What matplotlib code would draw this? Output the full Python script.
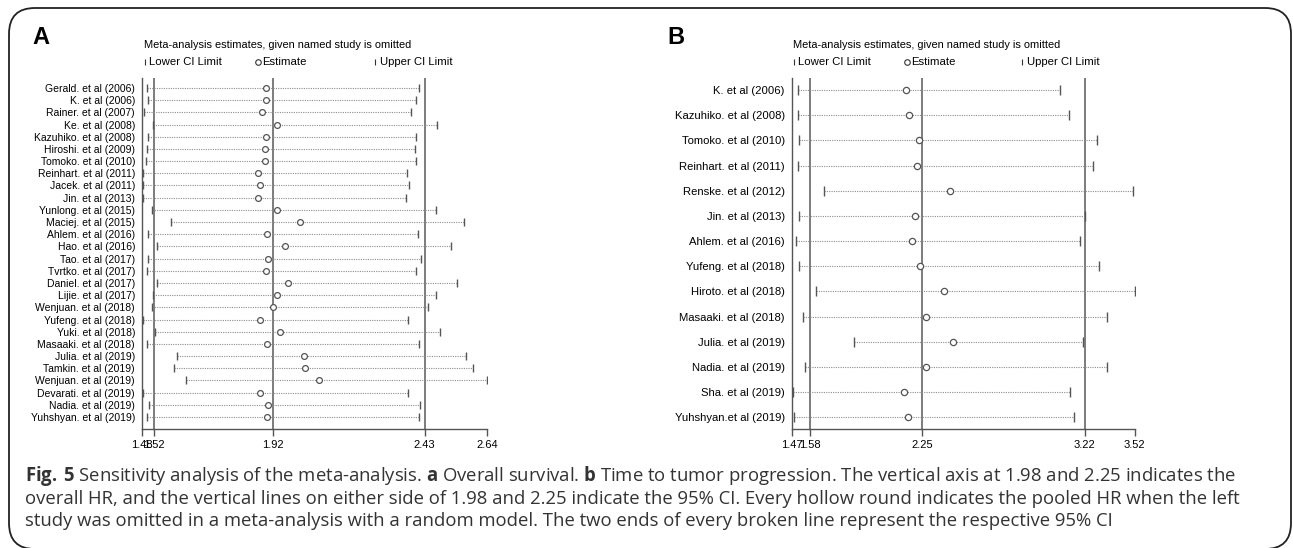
import matplotlib
matplotlib.use("Agg")
import matplotlib.pyplot as plt
from matplotlib.patches import FancyBboxPatch
from matplotlib.lines import Line2D

# ---- data ----
studies_a = ["Gerald. et al (2006)", "K. et al (2006)", "Rainer. et al (2007)", "Ke. et al (2008)",
             "Kazuhiko. et al (2008)", "Hiroshi. et al (2009)", "Tomoko. et al (2010)",
             "Reinhart. et al (2011)", "Jacek. et al (2011)", "Jin. et al (2013)",
             "Yunlong. et al (2015)", "Maciej. et al (2015)", "Ahlem. et al (2016)", "Hao. et al (2016)",
             "Tao. et al (2017)", "Tvrtko. et al (2017)", "Daniel. et al (2017)", "Lijie. et al (2017)",
             "Wenjuan. et al (2018)", "Yufeng. et al (2018)", "Yuki. et al (2018)",
             "Masaaki. et al (2018)", "Julia. et al (2019)", "Tamkin. et al (2019)",
             "Wenjuan. et al (2019)", "Devarati. et al (2019)", "Nadia. et al (2019)",
             "Yuhshyan. et al (2019)"]
lower_a = [1.498, 1.499, 1.487, 1.516, 1.499, 1.496, 1.493, 1.482, 1.482, 1.485,
           1.515, 1.576, 1.499, 1.529, 1.499, 1.498, 1.530, 1.517, 1.513, 1.482,
           1.523, 1.498, 1.597, 1.589, 1.628, 1.483, 1.504, 1.497]
est_a = [1.898, 1.898, 1.882, 1.935, 1.897, 1.895, 1.893, 1.871, 1.876, 1.869,
         1.933, 2.010, 1.900, 1.962, 1.904, 1.896, 1.972, 1.933, 1.919, 1.876,
         1.944, 1.900, 2.024, 2.029, 2.074, 1.877, 1.905, 1.900]
upper_a = [2.411, 2.401, 2.383, 2.471, 2.401, 2.398, 2.400, 2.370, 2.378, 2.368,
           2.467, 2.564, 2.409, 2.519, 2.419, 2.400, 2.538, 2.469, 2.442, 2.376,
           2.483, 2.412, 2.569, 2.592, 2.640, 2.376, 2.414, 2.412]
ticks_a = [1.48, 1.52, 1.92, 2.43, 2.64]
refs_a = [1.52, 1.92, 2.43]

studies_b = ["K. et al (2006)", "Kazuhiko. et al (2008)", "Tomoko. et al (2010)",
             "Reinhart. et al (2011)", "Renske. et al (2012)", "Jin. et al (2013)",
             "Ahlem. et al (2016)", "Yufeng. et al (2018)", "Hiroto. et al (2018)",
             "Masaaki. et al (2018)", "Julia. et al (2019)", "Nadia. et al (2019)",
             "Sha. et al (2019)", "Yuhshyan.et al (2019)"]
lower_b = [1.510, 1.508, 1.516, 1.510, 1.661, 1.512, 1.498, 1.516, 1.615, 1.538,
           1.845, 1.548, 1.476, 1.486]
est_b = [2.153, 2.169, 2.233, 2.217, 2.414, 2.205, 2.187, 2.237, 2.380, 2.271,
         2.434, 2.275, 2.141, 2.165]
upper_b = [3.072, 3.129, 3.293, 3.273, 3.510, 3.225, 3.193, 3.307, 3.520, 3.352,
           3.211, 3.352, 3.131, 3.157]
ticks_b = [1.47, 1.58, 2.25, 3.22, 3.52]
refs_b = [1.58, 2.25, 3.22]

title = "Meta-analysis estimates, given named study is omitted"
caption = [
    r"$\mathbf{Fig.\,5}$ Sensitivity analysis of the meta-analysis. $\mathbf{a}$ Overall survival. "
    r"$\mathbf{b}$ Time to tumor progression. The vertical axis at 1.98 and 2.25 indicates the",
    "overall HR, and the vertical lines on either side of 1.98 and 2.25 indicate the 95% CI. "
    "Every hollow round indicates the pooled HR when the left",
    "study was omitted in a meta-analysis with a random model. The two ends of every broken "
    "line represent the respective 95% CI",
]

SANS = "Liberation Sans"
plt.rcParams["mathtext.fontset"] = "custom"
plt.rcParams["mathtext.rm"] = "Open Sans"
plt.rcParams["mathtext.bf"] = "Open Sans:bold"

W, H = 1293, 548
fig = plt.figure(figsize=(W / 100, H / 100), dpi=100)


def fx(x):
    return x / W


def fy(y):
    return 1 - y / H


def panel(left, right, rows_top, rows_bot, names, lo, est, hi, ticks, refs,
          lab_size, cap_ms, circ_ms):
    top, bot = 78, 429
    n = len(names)
    step = (rows_bot - rows_top) / (n - 1)
    ax = fig.add_axes([fx(left), fy(bot), (right - left) / W, (bot - top) / H])
    ys = list(range(n))
    for r in refs:
        ax.axvline(r, color="#666666", lw=1.2, zorder=1)
    for i in ys:
        ax.plot([lo[i], hi[i]], [i, i], ls=(0, (1, 1.1)), color="#8c8c8c", lw=0.8, zorder=2)
    ax.plot(lo, ys, ls="none", marker="|", ms=cap_ms, mew=1.0, color="#555555", zorder=3)
    ax.plot(hi, ys, ls="none", marker="|", ms=cap_ms, mew=1.0, color="#555555", zorder=3)
    ax.plot(est, ys, ls="none", marker="o", ms=circ_ms, mfc="white", mec="#555555",
            mew=0.9, zorder=4)
    ax.set_xlim(ticks[0], ticks[-1])
    ax.set_ylim(n - 1 + (bot - rows_bot) / step, -(rows_top - top) / step)
    ax.set_xticks(ticks)
    ax.set_xticklabels([f"{t:.2f}" for t in ticks], family=SANS, fontsize=8.0)
    ax.set_yticks(ys)
    ax.set_yticklabels(names, family=SANS, fontsize=lab_size)
    ax.tick_params(axis="y", length=0, pad=5)
    ax.tick_params(axis="x", length=5, width=1, color="#555555", pad=3)
    for s in ["top", "right"]:
        ax.spines[s].set_visible(False)
    for s in ["left", "bottom"]:
        ax.spines[s].set_color("#555555")
        ax.spines[s].set_linewidth(1.0)
    return ax


panel(142, 487, 88, 417, studies_a, lower_a, est_a, upper_a, ticks_a, refs_a, 7.5, 6, 4.2)
panel(791.7, 1134.7, 90, 417.3, studies_b, lower_b, est_b, upper_b, ticks_b, refs_b, 8.1, 7, 4.5)

# panel letters, titles and key
for letter, x in [("A", 32), ("B", 667)]:
    fig.text(fx(x), fy(37), letter, fontsize=17, fontweight="bold", family=SANS,
             va="center", ha="left")

for x0, xe, xu in [(144, 258.3, 375), (792.7, 906.7, 1022)]:
    fig.text(fx(x0), fy(45), title, family=SANS, fontsize=7.95, va="center", ha="left")
    fig.add_artist(Line2D([fx(x0 + 1)], [fy(62)], marker="|", ms=5, mew=0.8, color="#333333"))
    fig.add_artist(Line2D([fx(xu)], [fy(62)], marker="|", ms=5, mew=0.8, color="#333333"))
    fig.add_artist(Line2D([fx(xe)], [fy(62)], marker="o", ms=4, mfc="white", mec="#333333",
                          mew=0.8))
    fig.text(fx(x0 + 5), fy(62), "Lower CI Limit", family=SANS, fontsize=8.2, va="center")
    fig.text(fx(xe + 4), fy(62), "Estimate", family=SANS, fontsize=8.2, va="center")
    fig.text(fx(xu + 5), fy(62), "Upper CI Limit", family=SANS, fontsize=8.2, va="center")

# caption
for k, line in enumerate(caption):
    fig.text(fx(25), fy(476 + 22.5 * k), line, family="Open Sans", fontsize=13.35,
             color="#333333", va="center", ha="left")

# rounded frame
fig.add_artist(FancyBboxPatch((fx(9), fy(549)), fx(1282), (549 - 8) / H,
                              boxstyle="round,pad=0,rounding_size=0.02",
                              transform=fig.transFigure, fill=False, ec="#222222", lw=1.3,
                              mutation_aspect=W / H))

fig.savefig("out.png", dpi=100)
